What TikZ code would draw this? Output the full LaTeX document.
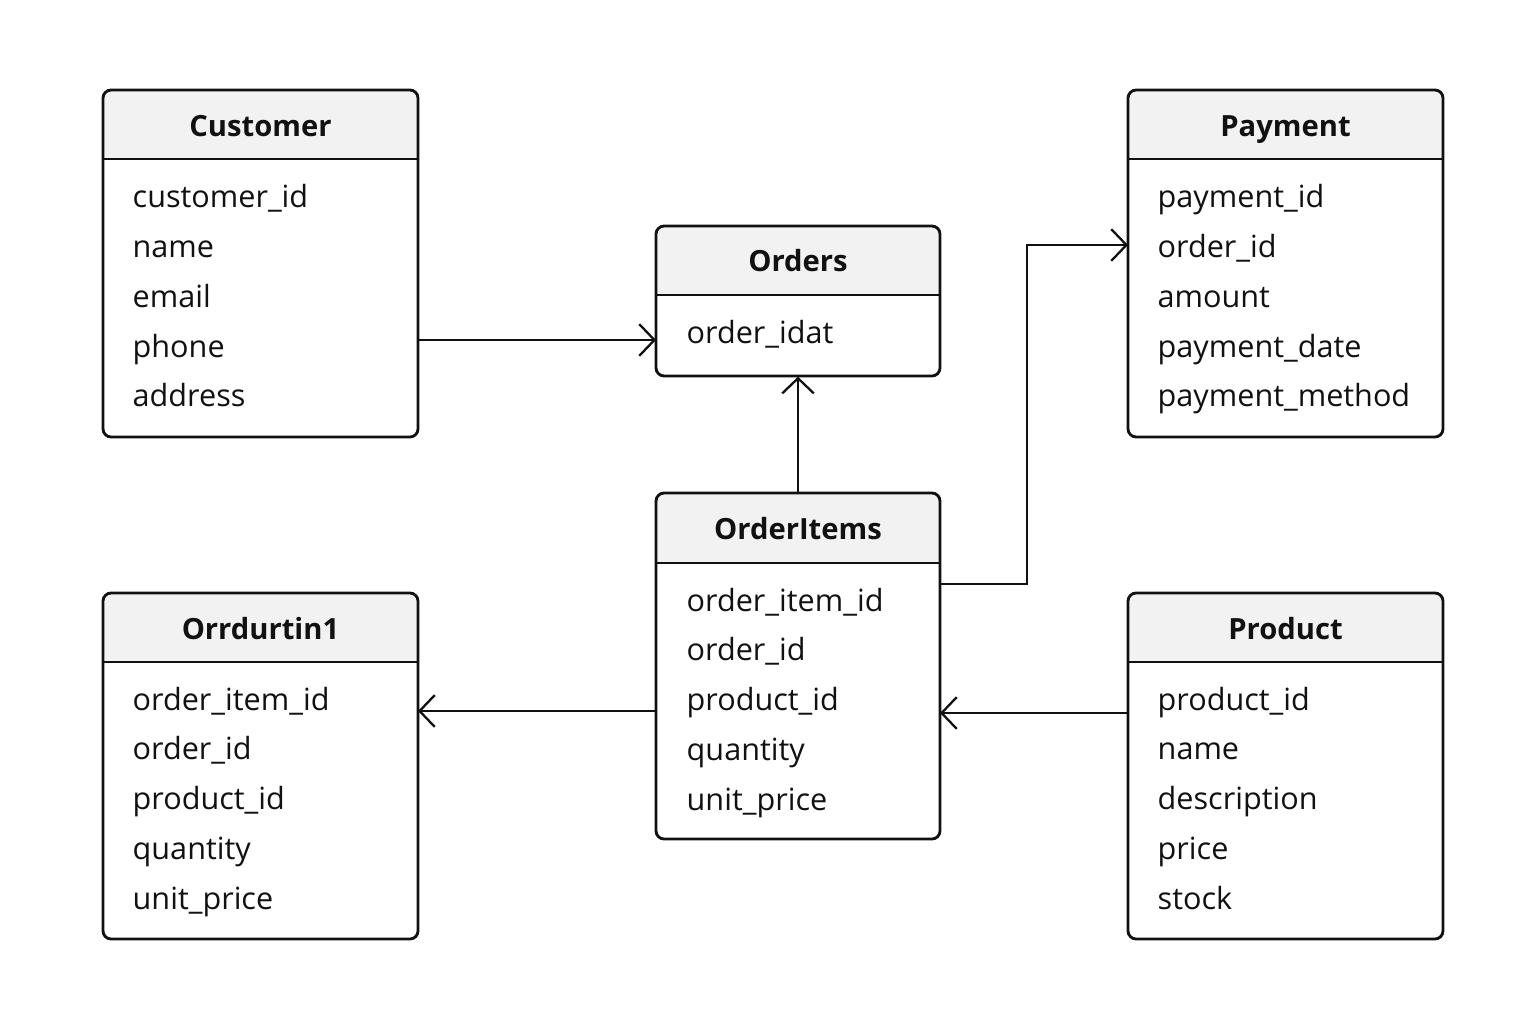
\documentclass[tikz,border=0pt]{standalone}
\usepackage{fontspec}
\setmainfont{Open Sans}
\usetikzlibrary{arrows.meta,fit}
\definecolor{headfill}{HTML}{F2F2F2}
\definecolor{ink}{HTML}{111111}
\tikzset{
  entborder/.style={draw=ink, line width=0.8pt, rounded corners=2.3pt},
  rowtxt/.style={anchor=base west, inner sep=0pt, text=ink, font=\fontsize{8.7}{10}\selectfont},
  titletxt/.style={anchor=base, inner sep=0pt, text=ink, font=\fontsize{8.3}{10}\selectfont\bfseries},
  conn/.style={draw=ink, line width=0.65pt, -{Straight Barb[length=4.3pt,width=9pt,line width=0.65pt]}},
}
% #1 name, #2 x1, #3 y1, #4 x2, #5 y2, #6 header bottom, #7 title baseline, #8 title
\newcommand\entitybox[8]{%
  \begin{scope}
    \clip[rounded corners=2.3pt] (#2,#3) rectangle (#4,#5);
    \fill[white] (#2,#3) rectangle (#4,#5);
    \fill[headfill] (#2,#3) rectangle (#4,#6);
  \end{scope}
  \draw[draw=ink, line width=0.8pt] (#2,#6) -- (#4,#6);
  \draw[entborder] (#2,#3) rectangle (#4,#5);
  \node[fit={(#2,#3) (#4,#5)}, inner sep=0pt] (#1) {};
  \node[titletxt] (#1-title) at ({(#2+#4)/2},#7) {#8};
}
\begin{document}
\begin{tikzpicture}[x=0.01cm,y=-0.01cm]
\useasboundingbox (0,0) rectangle (1536,1024);
\fill[white] (0,0) rectangle (1536,1024);

% Customer
\entitybox{cust}{103}{90}{418}{437}{159}{136}{Customer}
\node[rowtxt] (cust-1) at (132,207) {customer\_id};
\node[rowtxt] (cust-2) at (132,257) {name};
\node[rowtxt] (cust-3) at (132,307) {email};
\node[rowtxt] (cust-4) at (132,357) {phone};
\node[rowtxt] (cust-5) at (132,406) {address};

% Payment
\entitybox{pay}{1128}{90}{1443}{437}{159}{136}{Payment}
\node[rowtxt] (pay-1) at (1157,207) {payment\_id};
\node[rowtxt] (pay-2) at (1157,257) {order\_id};
\node[rowtxt] (pay-3) at (1157,307) {amount};
\node[rowtxt] (pay-4) at (1157,357) {payment\_date};
\node[rowtxt] (pay-5) at (1157,406) {payment\_method};

% Orders
\entitybox{ord}{656}{226}{940}{376}{295}{271}{Orders}
\node[rowtxt] (ord-1) at (686,343) {order\_idat};

% OrderItems
\entitybox{oi}{656}{493}{940}{839}{563}{539}{OrderItems}
\node[rowtxt] (oi-1) at (686,611) {order\_item\_id};
\node[rowtxt] (oi-2) at (686,660) {order\_id};
\node[rowtxt] (oi-3) at (686,710) {product\_id};
\node[rowtxt] (oi-4) at (686,760) {quantity};
\node[rowtxt] (oi-5) at (686,810) {unit\_price};

% Orrdurtin
\entitybox{odt}{103}{593}{418}{939}{662}{639}{Orrdurtin1}
\node[rowtxt] (odt-1) at (132,710) {order\_item\_id};
\node[rowtxt] (odt-2) at (132,759) {order\_id};
\node[rowtxt] (odt-3) at (132,809) {product\_id};
\node[rowtxt] (odt-4) at (132,859) {quantity};
\node[rowtxt] (odt-5) at (132,909) {unit\_price};

% Product
\entitybox{prod}{1128}{593}{1443}{939}{662}{639}{Product}
\node[rowtxt] (prod-1) at (1157,710) {product\_id};
\node[rowtxt] (prod-2) at (1157,759) {name};
\node[rowtxt] (prod-3) at (1157,809) {description};
\node[rowtxt] (prod-4) at (1157,859) {price};
\node[rowtxt] (prod-5) at (1157,909) {stock};

% connectors
\coordinate (c1) at (418,340);
\coordinate (c1e) at (656,340);
\draw[conn] (c1) -- (c1e);
\draw[conn] (oi.north) -- (ord.south);
\coordinate (c2) at (940,584);
\coordinate (c2e) at (1128,245);
\draw[conn] (c2) -| (1027,245) -- (c2e);
\coordinate (c3) at (656,711);
\coordinate (c3e) at (418,711);
\draw[conn] (c3) -- (c3e);
\coordinate (c4) at (1128,713);
\coordinate (c4e) at (940,713);
\draw[conn] (c4) -- (c4e);
\end{tikzpicture}
\end{document}
